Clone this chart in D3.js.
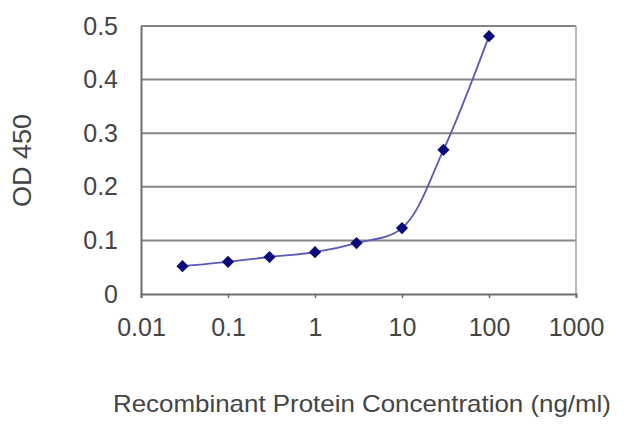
<!DOCTYPE html>
<html>
<head>
<meta charset="utf-8">
<script src="https://cdn.jsdelivr.net/npm/d3@7"></script>
<style>
  html, body { margin: 0; padding: 0; background: #fff; }
  svg text { font-family: "Liberation Sans", Arial, sans-serif; fill: #444; }
</style>
</head>
<body>
<svg id="chart" width="640" height="427"></svg>
<script>
  // concentration (ng/ml) vs OD 450
  const concentrations = [0.03, 0.1, 0.3, 1, 3, 10, 30, 100];
  const odValues = [0.052, 0.060, 0.069, 0.078, 0.095, 0.123, 0.269, 0.481];
  const xTicks = [0.01, 0.1, 1, 10, 100, 1000];
  const yTicks = [0, 0.1, 0.2, 0.3, 0.4, 0.5];

  const svg = d3.select("#chart");
  const plotLeft = 141, plotRight = 576, plotTop = 26, plotBottom = 294;

  const x = d3.scaleLog().domain([0.01, 1000]).range([plotLeft, plotRight]);
  const y = d3.scaleLinear().domain([0, 0.5]).range([plotBottom, plotTop]);

  // horizontal grid lines
  svg.append("g")
    .selectAll("line")
    .data(yTicks.filter((d) => d > 0))
    .join("line")
    .attr("x1", plotLeft)
    .attr("x2", plotRight)
    .attr("y1", (d) => y(d))
    .attr("y2", (d) => y(d))
    .attr("stroke", "#858585")
    .attr("stroke-width", 2);

  // right border
  svg.append("line")
    .attr("x1", plotRight).attr("x2", plotRight)
    .attr("y1", plotTop).attr("y2", plotBottom)
    .attr("stroke", "#a0a0a0").attr("stroke-width", 1.5);

  // x axis
  const xAxis = svg.append("g")
    .attr("transform", `translate(0,${plotBottom})`)
    .call(d3.axisBottom(x).tickValues(xTicks).tickFormat((d) => String(d)).tickSize(4).tickPadding(20));
  xAxis.select(".domain").attr("stroke", "#6e6e6e").attr("stroke-width", 2);
  xAxis.selectAll(".tick line").attr("stroke", "#6e6e6e").attr("stroke-width", 1.5);
  xAxis.selectAll(".tick text")
    .attr("font-size", 25)
    .attr("font-family", "Liberation Sans, Arial, sans-serif")
    .attr("fill", "#444");

  // y axis
  const yAxis = svg.append("g")
    .attr("transform", `translate(${plotLeft},0)`)
    .call(d3.axisLeft(y).tickValues(yTicks).tickFormat((d) => String(d)).tickSize(0).tickPadding(23));
  yAxis.select(".domain").attr("stroke", "#6e6e6e").attr("stroke-width", 2);
  yAxis.selectAll(".tick text")
    .attr("font-size", 25)
    .attr("font-family", "Liberation Sans, Arial, sans-serif")
    .attr("fill", "#444");

  const points = concentrations.map((c, i) => [c, odValues[i]]);

  const line = d3.line()
    .x((d) => x(d[0]))
    .y((d) => y(d[1]))
    .curve(d3.curveCatmullRom.alpha(0.5));

  svg.append("path")
    .datum(points)
    .attr("d", line)
    .attr("fill", "none")
    .attr("stroke", "#5a5ab4")
    .attr("stroke-width", 1.8);

  svg.append("g")
    .selectAll("path")
    .data(points)
    .join("path")
    .attr("d", d3.symbol(d3.symbolDiamond2, 95))
    .attr("transform", (d) => `translate(${x(d[0])},${y(d[1])})`)
    .attr("fill", "#0a0a7a");

  // axis titles
  svg.append("text")
    .attr("x", 113)
    .attr("y", 412)
    .attr("font-size", 24)
    .attr("textLength", 498)
    .attr("lengthAdjust", "spacingAndGlyphs")
    .text("Recombinant Protein Concentration (ng/ml)");

  svg.append("text")
    .attr("transform", "translate(31,207) rotate(-90)")
    .attr("font-size", 26)
    .attr("textLength", 93)
    .attr("lengthAdjust", "spacingAndGlyphs")
    .text("OD 450");
</script>
</body>
</html>
